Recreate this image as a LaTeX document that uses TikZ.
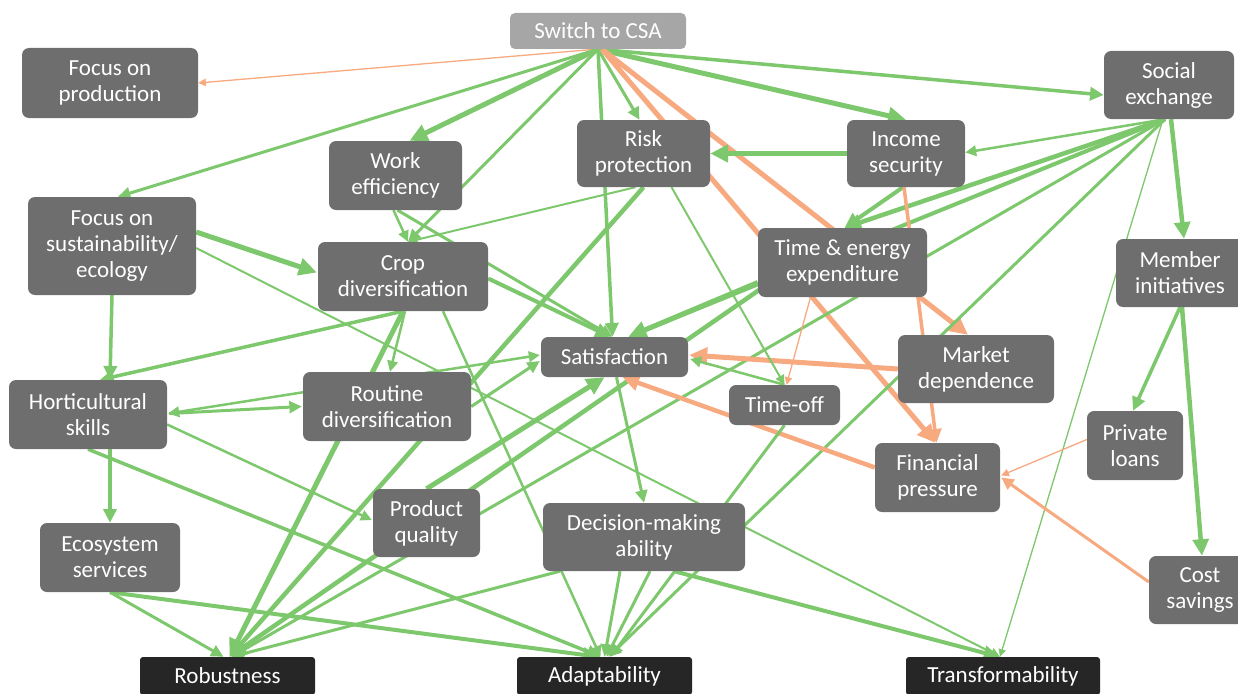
\documentclass[tikz,border=0pt]{standalone}
\usepackage{fontspec}
\setmainfont{Carlito}
\usetikzlibrary{arrows.meta,calc}
\definecolor{gr}{RGB}{125,199,108}
\definecolor{orn}{RGB}{247,169,128}
\definecolor{boxg}{RGB}{110,110,110}
\definecolor{boxd}{RGB}{38,38,38}
\definecolor{boxl}{RGB}{166,166,166}
\pgfdeclarelayer{edges}
\pgfsetlayers{edges,main}
\tikzset{
 box/.style={fill=boxg, rounded corners=7pt, text=white, align=center, inner sep=0pt, font=\fontsize{23}{26}\selectfont},
 outc/.style={box, fill=boxd, rounded corners=3pt},
 topc/.style={box, fill=boxl, rounded corners=5pt},
 ge/.style={draw=gr, line width=#1, -{Triangle[length=4pt 2.8,width=4pt 2.6]}},
 gboth/.style={draw=gr, line width=#1, {Triangle[length=4pt 2.8,width=4pt 2.6]}-{Triangle[length=4pt 2.8,width=4pt 2.6]}},
 oe/.style={draw=orn, line width=#1, -{Triangle[length=4pt 2.8,width=4pt 2.6]}},
}
\begin{document}
\begin{tikzpicture}[x=1pt,y=-1pt]
\useasboundingbox (0,0) rectangle (1238,693);
% nodes
\node[topc, minimum width=176pt, minimum height=36pt] (csa) at (598,31) {Switch to CSA};
\node[box, minimum width=176pt, minimum height=70pt] (prod) at (110,83) {Focus on\\production};
\node[box, minimum width=130pt, minimum height=68pt] (soc) at (1169,85) {Social\\exchange};
\node[box, minimum width=133pt, minimum height=67pt] (risk) at (643.5,153.5) {Risk\\protection};
\node[box, minimum width=118pt, minimum height=67pt] (inc) at (906,153.5) {Income\\security};
\node[box, minimum width=133pt, minimum height=69pt] (work) at (395.5,175.5) {Work\\efficiency};
\node[box, minimum width=168pt, minimum height=98pt] (sust) at (112,246) {Focus on\\sustainability/\\ecology};
\node[box, minimum width=170pt, minimum height=69pt] (crop) at (403,276.5) {Crop\\diversification};
\node[box, minimum width=169pt, minimum height=69pt] (time) at (842.5,262.5) {Time \& energy\\expenditure};
\node[box, minimum width=128pt, minimum height=68pt] (mem) at (1180,273) {Member\\initiatives};
\node[box, minimum width=147pt, minimum height=40pt] (sat) at (614.5,357) {Satisfaction};
\node[box, minimum width=156pt, minimum height=68pt] (mkt) at (976,369) {Market\\dependence};
\node[box, minimum width=158pt, minimum height=69pt] (hort) at (88,414.5) {Horticultural\\skills};
\node[box, minimum width=168pt, minimum height=69pt] (rout) at (387,406.5) {Routine\\diversification};
\node[box, minimum width=111pt, minimum height=40pt] (toff) at (784.5,405) {Time-off};
\node[box, minimum width=96pt, minimum height=69pt] (loan) at (1135,445.5) {Private\\loans};
\node[box, minimum width=125pt, minimum height=69pt] (fin) at (937.5,477.5) {Financial\\pressure};
\node[box, minimum width=107pt, minimum height=68pt] (pq) at (426.5,523) {Product\\quality};
\node[box, minimum width=202pt, minimum height=68pt] (dm) at (644,537) {Decision-making\\ability};
\node[box, minimum width=140pt, minimum height=69pt] (eco) at (110,557.5) {Ecosystem\\services};
\node[box, minimum width=102pt, minimum height=68pt] (cost) at (1200,590) {Cost\\savings};
\node[outc, minimum width=175pt, minimum height=38pt] (rob) at (227.5,676) {Robustness};
\node[outc, minimum width=175pt, minimum height=38pt] (ada) at (604.5,676) {Adaptability};
\node[outc, minimum width=194pt, minimum height=38pt] (tra) at (1003,676) {Transformability};
% edges
\begin{pgfonlayer}{edges}
% from Switch to CSA
\draw[oe=1.3pt] ($(csa.south)+(-2,0)$) -- (prod.east);
\draw[ge=3pt] (csa.south) -- ($(sust.north)+(6,0)$);
\draw[ge=5pt] (csa.south) -- ($(work.north)+(14,0)$);
\draw[ge=3pt] (csa.south) -- ($(crop.north)+(5,0)$);
\draw[ge=3.5pt] (csa.south) -- ($(sat.north)+(-2,0)$);
\draw[ge=3pt] (csa.south) -- ($(risk.north)+(-4,0)$);
\draw[ge=5pt] (csa.south) -- (inc.north);
\draw[ge=3.5pt] (csa.south) -- ($(soc.west)+(0,10)$);
\draw[oe=5pt] ($(csa.south)+(4,0)$) -- ($(mkt.north)+(-8,0)$);
\draw[oe=5pt] ($(csa.south)+(4,0)$) -- ($(fin.north)+(-2,0)$);
% from Social exchange
\draw[ge=5pt] (inc.west) -- (risk.east);
\draw[ge=2.5pt] ($(soc.south)+(-4,0)$) -- ($(inc.east)+(0,-1)$);
\draw[ge=4.5pt] ($(soc.south)+(2,0)$) -- ($(mem.north)+(4,0)$);
\draw[ge=1.3pt] ($(soc.south)+(-6,0)$) -- ($(tra.north)+(-3,0)$);
\draw[ge=4.5pt] ($(soc.south)+(-4,0)$) -- ($(time.north)+(2,0)$);
\draw[ge=4pt] ($(inc.south)+(-3,0)$) -- ($(time.north)+(2,0)$);
\draw[ge=4pt] ($(soc.south)+(-4,0)$) -- ($(sat.north)+(14,0)$);
\draw[ge=3pt] ($(soc.south)+(-4,0)$) -- ($(rob.north)+(4,0)$);
\draw[ge=3pt] ($(soc.south)+(-4,0)$) -- ($(ada.north)+(4,0)$);
% from Time & energy
\draw[ge=5pt] ($(time.west)+(0,20)$) -- ($(sat.north)+(14,0)$);
\draw[ge=4.5pt] ($(time.west)+(2,27)$) -- ($(rob.north)+(2,0)$);
\draw[oe=1.3pt] ($(time.south)+(-32,0)$) -- ($(toff.north)+(2,0)$);
% orange
\draw[oe=5pt] (mkt.west) -- ($(sat.east)+(1,-2)$);
\draw[oe=4.5pt] ($(fin.west)+(0,-10)$) -- ($(sat.south)+(8,0)$);
\draw[oe=3.5pt] ($(inc.south)+(-2,0)$) -- ($(fin.north)+(-1,0)$);
\draw[oe=1.3pt] ($(loan.west)+(0,-6)$) -- ($(fin.east)+(1,-2)$);
\draw[oe=3pt] ($(cost.west)+(0,-8)$) -- ($(fin.east)+(1,0)$);
% member initiatives
\draw[ge=3.5pt] (mem.south) -- ($(loan.north)+(-2,0)$);
\draw[ge=4.5pt] ($(mem.south)+(2,0)$) -- ($(cost.north)+(2,0)$);
% risk protection
\draw[ge=2pt] ($(risk.south)+(28,0)$) -- (toff.north);
\draw[ge=4.5pt] (risk.south) -- ($(rob.north)+(2,0)$);
\draw[ge=2pt] ($(risk.south)+(-8,0)$) -- ($(crop.north)+(5,0)$);
% work efficiency
\draw[ge=2.5pt] ($(work.south)+(-2,0)$) -- ($(crop.north)+(5,0)$);
\draw[ge=3pt] ($(work.south)+(2,0)$) -- ($(sat.north)+(-2,0)$);
% crop diversification and sustainability
\draw[ge=4pt] ($(crop.east)+(0,2)$) -- ($(sat.north)+(-4,0)$);
\draw[ge=5pt] ($(sust.east)+(0,-14)$) -- ($(crop.west)+(-1,-4)$);
\draw[ge=2pt] ($(sust.east)+(0,2)$) -- ($(tra.north)+(-3,0)$);
\draw[ge=3.5pt] (sust.south) -- ($(hort.north)+(22,0)$);
\draw[ge=3.5pt] (crop.south) -- ($(hort.north)+(12,0)$);
\draw[ge=2.5pt] ($(crop.south)+(2,0)$) -- ($(rout.north)+(3,0)$);
\draw[ge=5pt] (crop.south) -- ($(rob.north)+(2,0)$);
\draw[ge=2.5pt] ($(crop.south)+(40,0)$) -- ($(ada.north)+(-4,0)$);
% horticultural skills
\draw[ge=3pt] ($(hort.east)+(2,-1)$) -- ($(rout.west)+(-1,0)$);
\draw[gboth=2.5pt] ($(hort.east)+(1,-1)$) -- ($(sat.west)+(-1,-2)$);
\draw[ge=3pt] (rout.east) -- ($(sat.west)+(-1,4)$);
\draw[ge=2.5pt] ($(hort.east)+(0,10)$) -- ($(pq.west)+(-1,-3)$);
\draw[ge=3.5pt] (hort.south) -- ($(ada.north)+(-4,0)$);
\draw[ge=3.5pt] ($(hort.south)+(22,0)$) -- (eco.north);
% ecosystem services
\draw[ge=3pt] (eco.south) -- ($(rob.north)+(-4,0)$);
\draw[ge=4pt] (eco.south) -- ($(ada.north)+(-6,0)$);
% product quality, satisfaction, time-off
\draw[ge=5pt] (pq.north) -- ($(sat.south)+(-10,0)$);
\draw[ge=3pt] ($(sat.south)+(2,0)$) -- (dm.north);
\draw[ge=2.5pt] (toff.north) -- ($(sat.east)+(2,2)$);
\draw[ge=3pt] (toff.south) -- ($(ada.north)+(6,0)$);
% decision-making
\draw[ge=3pt] ($(dm.south)+(-84,0)$) -- ($(rob.north)+(4,0)$);
\draw[ge=3pt] ($(dm.south)+(-24,0)$) -- (ada.north);
\draw[ge=3pt] ($(dm.south)+(6,0)$) -- ($(ada.north)+(2,0)$);
\draw[ge=4pt] ($(dm.south)+(30,0)$) -- ($(tra.north)+(-4,0)$);
\end{pgfonlayer}
\end{tikzpicture}
\end{document}
